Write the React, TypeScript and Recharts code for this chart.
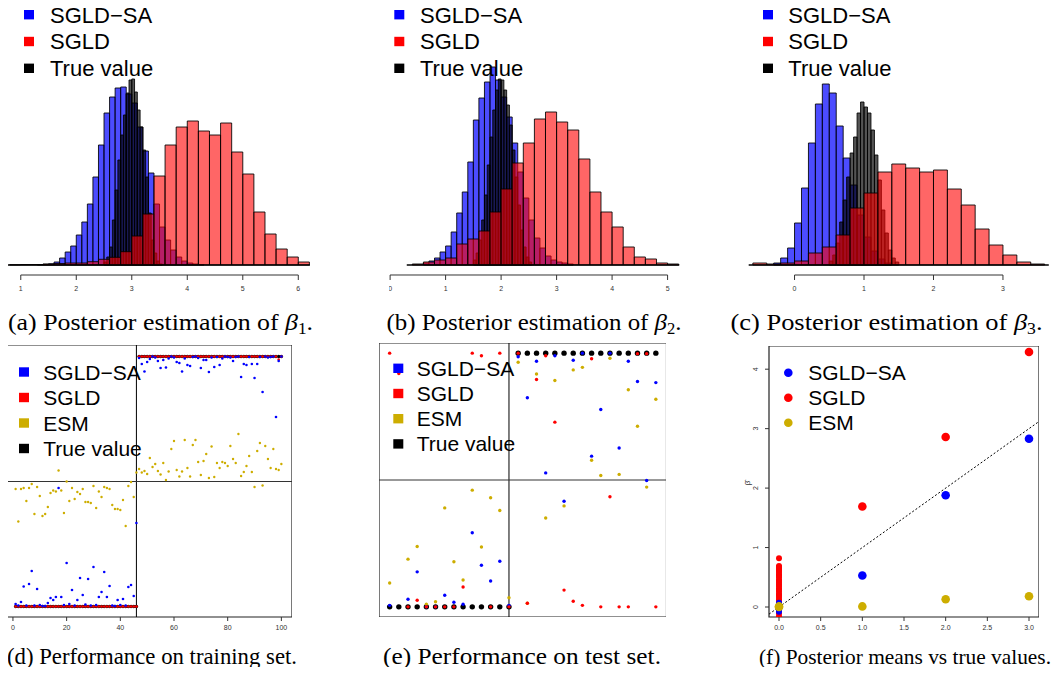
import React from "react";
import { ComposedChart, ScatterChart, Scatter, XAxis, YAxis, ReferenceArea, ReferenceLine } from "recharts";

const SANS = '"Liberation Sans", Arial, Helvetica, sans-serif';
const SERIF = '"Liberation Serif", "Times New Roman", serif';
const BLUE = "#0000ff";
const RED = "#ff0000";
const GOLD = "#cdad00";

// ---- histograms (counts per bin), blue bins 0.1 wide, black 0.05, red 0.2 ----
const blueStartA = 1.3;
const blueCountsA = [0.5, 0.7, 1.2, 3, 7, 13, 19, 30, 43, 61, 88, 120, 152, 168, 177, 178, 171, 162, 138, 114, 92, 61, 38, 25, 15, 8, 4, 2, 1, 0.5];
const blackStartA = 2.5;
const blackCountsA = [3, 8, 18, 45, 75, 105, 130, 150, 172, 185, 186, 173, 155, 138, 115, 88, 52, 25, 12, 4, 1];
const redStartA = 0.8;
const redCountsA = [0.3, 0.5, 0.5, 1, 1.5, 2, 2, 3.3, 5.7, 7.7, 13.3, 29, 51, 89, 120, 138, 144, 134, 130, 142, 113, 91, 53, 31, 16, 8, 3];

const blueStartB = 0.6;
const blueCountsB = [2, 4, 7, 13, 19, 33, 52, 73, 103, 145, 167, 183, 198, 185, 168, 148, 122, 93, 67, 45, 27, 17, 9, 5, 3, 2, 1];
const blackStartB = 1.5;
const blackCountsB = [5, 12, 25, 45, 70, 100, 128, 155, 175, 186, 185, 175, 160, 140, 115, 88, 60, 35, 18, 8, 3];
const redStartB = 0.4;
const redCountsB = [1, 3, 5, 7, 21, 26, 34, 53, 76, 102, 122, 146, 153, 143, 135, 106, 73, 53, 38, 18, 8, 6, 2, 1];

const blueStartC = -0.3;
const blueCountsC = [2, 7, 17, 42, 77, 122, 161, 181, 172, 139, 107, 80, 50, 28, 14, 6, 2];
const blackStartC = 0.5;
const blackCountsC = [4, 10, 22, 43, 65, 88, 112, 128, 152, 163, 158, 152, 135, 110, 85, 55, 32, 15, 7, 3];
const redStartC = -0.6;
const redCountsC = [2, 1, 2, 4, 12, 18, 30, 57, 72, 93, 101, 97, 93, 95, 76, 60, 36, 20, 10, 3, 1];

// ---- training set (100 coefficients) ----
const trainTrue = [
  0, 0, 0, 0, 0, 0, 0, 0, 0, 0,
  0, 0, 0, 0, 0, 0, 0, 0, 0, 0,
  0, 0, 0, 0, 0, 0, 0, 0, 0, 0,
  0, 0, 0, 0, 0, 0, 0, 0, 0, 0,
  0, 0, 0, 0, 0, 0, 5, 5, 5, 5,
  5, 5, 5, 5, 5, 5, 5, 5, 5, 5,
  5, 5, 5, 5, 5, 5, 5, 5, 5, 5,
  5, 5, 5, 5, 5, 5, 5, 5, 5, 5,
  5, 5, 5, 5, 5, 5, 5, 5, 5, 5,
  5, 5, 5, 5, 5, 5, 5, 5, 5, 5,
];
const trainSGLD = [
  0, 0, 0, 0, 0, 0, 0, 0, 0, 0,
  0, 0, 0, 0, 0, 0, 0, 0, 0, 0,
  0, 0, 0, 0, 0, 0, 0, 0, 0, 0,
  0, 0, 0, 0, 0, 0, 0, 0, 0, 0,
  0, 0, 0, 0, 0, 0, 5, 5, 5, 5,
  5, 5, 5, 5, 5, 5, 5, 5, 5, 5,
  5, 5, 5, 5, 5, 5, 5, 5, 5, 5,
  5, 5, 5, 5, 5, 5, 5, 5, 5, 5,
  5, 5, 5, 5, 5, 5, 5, 5, 5, 5,
  5, 5, 5, 5, 5, 5, 5, 5, 4.94, 5,
];
const trainSGLDSA = [
  0.05, 0.02, 0.09, 0.4, 0.02, 0.45, 0.71, 0.02, 0.35, 0.03,
  0.01, 0.01, 0.07, 0.17, 0.13, 0.19, 2.37, 0.19, 0.03, 0.87,
  0.05, 0.33, 0.02, 0.13, 0.57, 0.23, 0.04, 0.55, 0.02, 0.79,
  0.03, 0.19, 0.29, 0.69, 0.19, 0.41, 0.02, 0.01, 0.13, 0.03,
  0.15, 0.02, 0.39, 0.43, 0.21, 1.67, 4.97, 4.85, 4.7, 4.89,
  4.95, 5.0, 4.98, 4.91, 4.77, 4.93, 4.78, 4.96, 5.0, 4.98,
  4.89, 4.87, 4.7, 4.96, 4.83, 4.81, 4.99, 5.0, 4.97, 4.77,
  4.93, 4.93, 4.69, 4.98, 4.79, 4.99, 4.83, 4.96, 5.0, 4.99,
  4.98, 4.91, 4.99, 5.0, 4.59, 4.85, 4.83, 4.99, 4.85, 4.57,
  4.85, 4.99, 4.29, 5.0, 4.98, 4.99, 5.0, 3.79, 4.91, 5.0,
];
const trainESM = [
  2.35, 1.7, 2.35, 2.37, 2.11, 2.37, 2.45, 1.85, 2.39, 2.21,
  1.81, 1.85, 1.99, 2.27, 2.32, 2.3, 2.72, 2.32, 1.87, 2.5,
  2.11, 2.37, 2.15, 2.29, 2.25, 2.35, 2.09, 2.09, 2.07, 2.41,
  1.97, 2.3, 2.19, 2.39, 2.37, 2.35, 2.03, 1.95, 1.95, 1.93,
  2.13, 1.61, 2.41, 2.49, 2.19, 2.68, 2.75, 2.68, 2.71, 2.65,
  2.97, 2.79, 2.85, 2.71, 2.64, 2.87, 2.53, 2.7, 3.15, 3.31,
  2.73, 2.6, 2.7, 3.33, 2.77, 2.6, 3.23, 3.33, 2.89, 2.63,
  2.91, 3.05, 2.57, 3.2, 2.59, 2.87, 2.77, 2.89, 2.87, 2.81,
  3.21, 2.95, 2.87, 3.45, 2.61, 2.69, 2.81, 3.01, 2.69, 2.39,
  3.11, 3.27, 2.42, 3.21, 2.95, 2.77, 3.15, 2.75, 2.73, 2.85,
];

// ---- test set (30 coefficients) ----
const testTrue = [0, 0, 0, 0, 0, 0, 0, 0, 0, 0, 0, 0, 0, 0, 5, 5, 5, 5, 5, 5, 5, 5, 5, 5, 5, 5, 5, 5, 5, 5];
const testSGLD = [5.0, 4.6, 0, 0.13, 0, 0, 0, 0, 0.39, 5.0, 4.95, 0, 5.0, 0, 5.0, 0.07, 4.48, 4.95, 3.64, 0.33, 0.11, 0.03, 4.89, 0, 2.17, 0, 0, 4.99, 4.99, 0];
const testSGLDSA = [0.03, 4.75, 0.15, 0.69, 0, 0, 0.23, 0.09, 0.05, 1.46, 0.82, 0.51, 0.9, 0.03, 4.93, 4.12, 4.84, 2.64, 4.95, 2.08, 4.86, 5.0, 2.97, 3.89, 5.0, 3.13, 4.84, 4.44, 2.49, 4.42];
const testESM = [0.47, 4.7, 0.94, 1.19, 0.05, 0.1, 1.95, 0.89, 0.53, 2.3, 1.18, 2.15, 1.9, 0.18, 4.82, 0.07, 4.59, 1.75, 4.46, 1.99, 4.67, 4.72, 2.89, 2.59, 4.9, 2.61, 4.28, 3.56, 2.36, 4.09];

// ---- posterior means vs true values ----
const meanTrue = [1, 2, 3];
const meanSGLDSA = [0.53, 1.88, 2.83];
const meanSGLD = [1.69, 2.86, 4.29];
const meanESM = [0.01, 0.13, 0.18];
const zeroSGLD = [-0.16, -0.11, -0.07, -0.03, 0.01, 0.04, 0.08, 0.1, 0.13, 0.17, 0.2, 0.22, 0.26, 0.29, 0.31, 0.35, 0.38, 0.41, 0.44, 0.46, 0.5, 0.53, 0.55, 0.59, 0.62, 0.64, 0.67, 0.69, 0.82];
const zeroSGLDSA = [-0.08, -0.04, 0.0, 0.03, 0.07];
const zeroESM = [0.0, 0.01];

const dot = (r: number, color: string) => (p: any) => <circle cx={p.cx} cy={p.cy} r={r} fill={color} />;
const idx = (arr: number[]) => arr.map((v, i) => ({ x: i + 1, y: v }));
const tickStyle = { fontSize: 7, fill: "#333", fontFamily: SANS };

function bins(start: number, w: number, counts: number[], color: string, op: number, tag: string) {
  return counts.map((c, i) => {
    const x1 = Math.round((start + i * w) * 1000) / 1000;
    const x2 = Math.round((start + (i + 1) * w) * 1000) / 1000;
    return (
      <ReferenceArea key={tag + i} x1={x1} x2={x2} y1={0} y2={c} fill={color} fillOpacity={op}
        stroke="#000" strokeOpacity={0.85} strokeWidth={1} ifOverflow="visible" />
    );
  });
}

function Hist({ left, width, domain, ticks, base, blue, black, red }: any) {
  return (
    <div style={{ position: "absolute", left, top: 0 }}>
      <ComposedChart width={width} height={300} margin={{ top: 60, right: 0, bottom: 5, left: 0 }}>
        <XAxis type="number" dataKey="x" domain={domain} ticks={ticks} interval={0} allowDataOverflow
          axisLine={false} tickLine={{ stroke: "#333" }} tickSize={5} tickMargin={6} height={20} tick={tickStyle} />
        <YAxis type="number" dataKey="y" domain={[-10, 205]} hide allowDataOverflow />
        <Scatter data={[{ x: domain[0], y: 0 }]} fill="none" isAnimationActive={false} />
        {bins(blue[0], 0.1, blue[1], BLUE, 0.7, "b")}
        {bins(black[0], 0.05, black[1], "#000", 0.67, "k")}
        {bins(red[0], 0.2, red[1], RED, 0.6, "r")}
        <ReferenceLine segment={[{ x: base[0], y: 0 }, { x: base[1], y: 0 }]} stroke="#000" strokeWidth={1.5} ifOverflow="visible" />
        <ReferenceLine segment={[{ x: ticks[0], y: -10 }, { x: ticks[ticks.length - 1], y: -10 }]} stroke="#333" ifOverflow="visible" />
      </ComposedChart>
    </div>
  );
}

function Train() {
  return (
    <div style={{ position: "absolute", left: 0, top: 345 }}>
      <ScatterChart width={292} height={292} margin={{ top: 0, right: 0, bottom: 0, left: 0 }}>
        <XAxis type="number" dataKey="x" domain={[-2.96, 103.96]} ticks={[0, 20, 40, 60, 80, 100]} interval={0} allowDataOverflow
          axisLine={false} tickLine={{ stroke: "#333" }} tickSize={4} tickMargin={4} height={20} tick={tickStyle} />
        <YAxis type="number" dataKey="y" domain={[-0.21, 5.23]} ticks={[0, 1, 2, 3, 4, 5]} interval={0} allowDataOverflow
          axisLine={false} tick={false} tickLine={{ stroke: "#333" }} tickSize={3} width={5} />
        <ReferenceArea x1={-2.96} x2={103.96} y1={-0.21} y2={5.23} fill="none" stroke="#222" strokeWidth={1.2} ifOverflow="visible" />
        <ReferenceLine x={46} stroke="#000" />
        <ReferenceLine y={2.5} stroke="#333" />
        <Scatter data={idx(trainTrue)} shape={dot(1.7, "#000")} isAnimationActive={false} />
        <Scatter data={idx(trainSGLD)} shape={dot(1.3, RED)} isAnimationActive={false} />
        <Scatter data={idx(trainSGLDSA)} shape={dot(1.3, BLUE)} isAnimationActive={false} />
        <Scatter data={idx(trainESM)} shape={dot(1.2, GOLD)} isAnimationActive={false} />
      </ScatterChart>
    </div>
  );
}

function Test() {
  return (
    <div style={{ position: "absolute", left: 378.5, top: 342.7 }}>
      <ScatterChart width={287.5} height={274} margin={{ top: 0, right: 0, bottom: 0, left: 0 }}>
        <XAxis type="number" dataKey="x" domain={[-0.16, 31.16]} hide allowDataOverflow />
        <YAxis type="number" dataKey="y" domain={[-0.2, 5.2]} hide allowDataOverflow />
        <ReferenceArea x1={-0.16} x2={31.16} y1={-0.2} y2={5.2} fill="none" stroke="#222" strokeWidth={1.2} ifOverflow="visible" />
        <ReferenceLine x={14} stroke="#000" />
        <ReferenceLine y={2.5} stroke="#333" />
        <Scatter data={idx(testTrue)} shape={dot(2.7, "#000")} isAnimationActive={false} />
        <Scatter data={idx(testESM)} shape={dot(1.7, GOLD)} isAnimationActive={false} />
        <Scatter data={idx(testSGLDSA)} shape={dot(1.7, BLUE)} isAnimationActive={false} />
        <Scatter data={idx(testSGLD)} shape={dot(1.7, RED)} isAnimationActive={false} />
      </ScatterChart>
    </div>
  );
}

const RotTick = (p: any) => (
  <text x={p.x} y={p.y} transform={`rotate(-90 ${p.x} ${p.y})`} textAnchor="middle" fontSize={7} fill="#333" fontFamily={SANS}>
    {p.payload.value}
  </text>
);

function Means() {
  const pair = (xs: number[], ys: number[]) => ys.map((v, i) => ({ x: xs[i], y: v }));
  const zeros = (ys: number[]) => ys.map((v) => ({ x: 0, y: v }));
  return (
    <div style={{ position: "absolute", left: 744.3, top: 346 }}>
      <ScatterChart width={295} height={291} margin={{ top: 0, right: 0, bottom: 0, left: 0 }}>
        <XAxis type="number" dataKey="x" domain={[-0.12, 3.12]} ticks={[0, 0.5, 1, 1.5, 2, 2.5, 3]} interval={0} allowDataOverflow
          axisLine={false} tickLine={{ stroke: "#333" }} tickSize={4} tickMargin={4} height={20} tick={tickStyle}
          tickFormatter={(v: number) => v.toFixed(1)} />
        <YAxis type="number" dataKey="y" domain={[-0.168, 4.39]} ticks={[0, 1, 2, 3, 4]} interval={0} allowDataOverflow
          axisLine={false} tickLine={{ stroke: "#333" }} tickSize={4} tickMargin={7} width={25} tick={RotTick} />
        <ReferenceArea x1={-0.12} x2={3.12} y1={-0.168} y2={4.39} fill="none" stroke="#222" strokeWidth={1.2} ifOverflow="visible" />
        <ReferenceLine segment={[{ x: -0.12, y: -0.12 }, { x: 3.12, y: 3.12 }]} stroke="#000" strokeDasharray="2 2" />
        <Scatter data={zeros(zeroSGLD)} shape={dot(3, RED)} isAnimationActive={false} />
        <Scatter data={zeros(zeroSGLDSA)} shape={dot(3, BLUE)} isAnimationActive={false} />
        <Scatter data={zeros(zeroESM)} shape={dot(4.3, GOLD)} isAnimationActive={false} />
        <Scatter data={pair(meanTrue, meanSGLDSA)} shape={dot(4.3, BLUE)} isAnimationActive={false} />
        <Scatter data={pair(meanTrue, meanSGLD)} shape={dot(4.3, RED)} isAnimationActive={false} />
        <Scatter data={pair(meanTrue, meanESM)} shape={dot(4.3, GOLD)} isAnimationActive={false} />
      </ScatterChart>
    </div>
  );
}

function Legend({ mx, tx, rows, step, fs, items, circle }: any) {
  return (
    <g fontFamily={SANS} fontSize={fs} fill="#000">
      {items.map((it: any, i: number) => {
        const cy = rows + i * step;
        return (
          <g key={it.label}>
            {circle ? <circle cx={mx} cy={cy} r={4.3} fill={it.color} />
              : <rect x={mx - 5} y={cy - 4.7} width={10} height={9.4} fill={it.color} />}
            <text x={tx} y={cy + fs * 0.36}>{it.label}</text>
          </g>
        );
      })}
    </g>
  );
}

const histItems = [
  { label: "SGLD\u2212SA", color: BLUE },
  { label: "SGLD", color: RED },
  { label: "True value", color: "#000" },
];
const testItems = [
  { label: "SGLD\u2212SA", color: BLUE },
  { label: "SGLD", color: RED },
  { label: "ESM", color: GOLD },
  { label: "True value", color: "#000" },
];
const meanItems = testItems.slice(0, 3);

// top captions carry an italic beta with a subscript
function BetaCaption({ x, y, len, lead, sub }: any) {
  return (
    <text x={x} y={y} textAnchor="middle" fontFamily={SERIF} fontSize={24} fill="#000"
      textLength={len} lengthAdjust="spacingAndGlyphs">
      {lead}
      <tspan fontStyle="italic">{"\u03b2"}</tspan>
      <tspan fontSize={16} dy={4}>{sub}</tspan>
      <tspan dy={-4}>.</tspan>
    </text>
  );
}

function Caption({ x, y, len, fs, text }: any) {
  return (
    <text x={x} y={y} textAnchor="middle" fontFamily={SERIF} fontSize={fs} fill="#000"
      textLength={len} lengthAdjust="spacingAndGlyphs">
      {text}
    </text>
  );
}

export default function App() {
  return (
    <div style={{ position: "relative", width: 1060, height: 675, margin: -8, background: "#fff", overflow: "hidden" }}>
      <Hist left={7.9} width={302.5} domain={[0.77, 6.22]} ticks={[1, 2, 3, 4, 5, 6]} base={[0.77, 6.21]}
        blue={[blueStartA, blueCountsA]} black={[blackStartA, blackCountsA]} red={[redStartA, redCountsA]} />
      <Hist left={388.9} width={290.8} domain={[-0.02, 5.22]} ticks={[0, 1, 2, 3, 4, 5]} base={[0.3, 5.21]}
        blue={[blueStartB, blueCountsB]} black={[blackStartB, blackCountsB]} red={[redStartB, redCountsB]} />
      <Hist left={747.8} width={301.5} domain={[-0.67, 3.67]} ticks={[0, 1, 2, 3]} base={[-0.66, 3.66]}
        blue={[blueStartC, blueCountsC]} black={[blackStartC, blackCountsC]} red={[redStartC, redCountsC]} />
      <Train />
      <Test />
      <Means />
      <svg width={1060} height={675} style={{ position: "absolute", left: 0, top: 0, pointerEvents: "none" }}>
        <Legend mx={29} tx={50} rows={14.7} step={26.8} fs={22} items={histItems} />
        <Legend mx={399.3} tx={420} rows={14.7} step={26.8} fs={22} items={histItems} />
        <Legend mx={768} tx={788.3} rows={14.7} step={26.8} fs={22} items={histItems} />
        <Legend mx={24} tx={43.3} rows={372} step={25.5} fs={21} items={testItems} />
        <Legend mx={398.3} tx={416.7} rows={368.3} step={25.2} fs={21} items={testItems} />
        <Legend mx={788.3} tx={808.3} rows={372.7} step={25} fs={21} items={meanItems} circle />
        <text x={750} y={483} transform="rotate(-90 750 483)" textAnchor="middle" fontSize={8} fontFamily={SANS} fill="#333">
          {"\u03b2\u0302"}
        </text>
        <BetaCaption x={160.5} y={330} len={305} lead="(a) Posterior estimation of " sub="1" />
        <BetaCaption x={534} y={330} len={295} lead="(b) Posterior estimation of " sub="2" />
        <BetaCaption x={886.5} y={330} len={312} lead="(c) Posterior estimation of " sub="3" />
        <Caption x={152} y={664} len={290} fs={23} text="(d) Performance on training set." />
        <Caption x={522} y={664} len={278} fs={23} text="(e) Performance on test set." />
        <Caption x={905} y={664} len={292} fs={21.5} text="(f) Posterior means vs true values." />
      </svg>
    </div>
  );
}
